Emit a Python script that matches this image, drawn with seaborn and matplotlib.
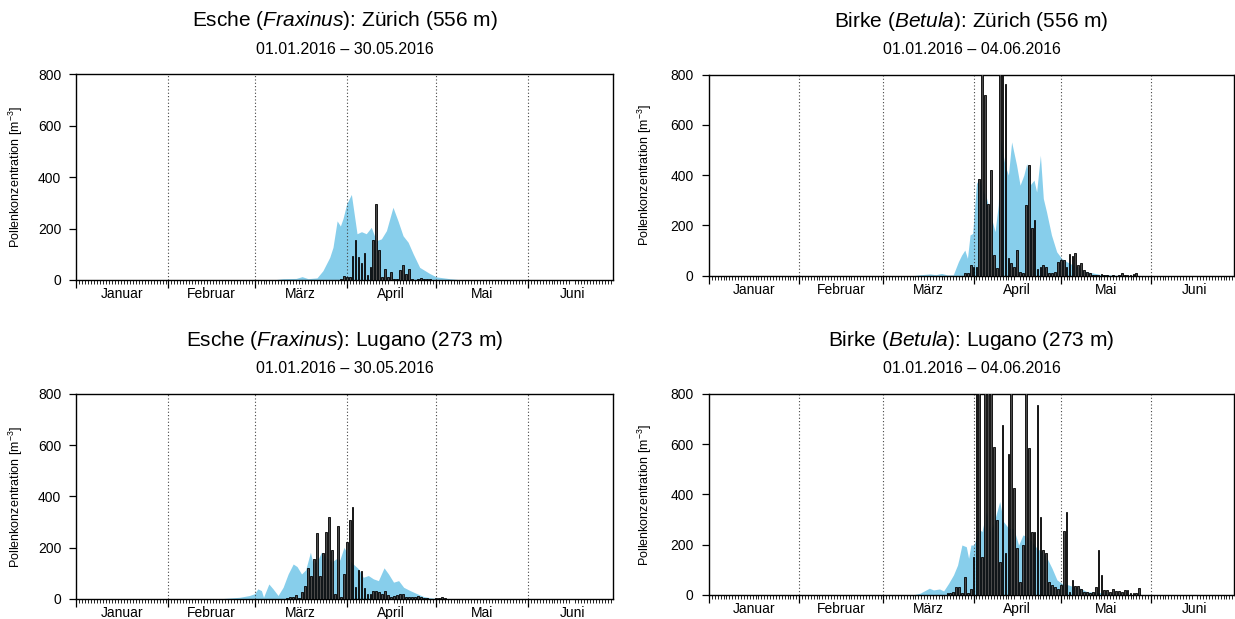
import numpy as np
import pandas as pd
import matplotlib
matplotlib.use("Agg")
import matplotlib.pyplot as plt
import seaborn as sns

# ---------------- data ----------------
months = ["Januar", "Februar", "März", "April", "Mai", "Juni"]
month_lengths = [31, 29, 31, 30, 31, 30]
y_ticks = [0, 200, 400, 600, 800]

titles = [r"Esche ($\it{Fraxinus}$): Zürich (556 m)",
          r"Birke ($\it{Betula}$): Zürich (556 m)",
          r"Esche ($\it{Fraxinus}$): Lugano (273 m)",
          r"Birke ($\it{Betula}$): Lugano (273 m)"]
subtitles = ["01.01.2016 – 30.05.2016",
             "01.01.2016 – 04.06.2016",
             "01.01.2016 – 30.05.2016",
             "01.01.2016 – 04.06.2016"]

# measured daily values (bars): first day index (0 = 1 Jan) and values
esche_zh_start = 89
esche_zh_bars = [5, 17, 12, 12, 95, 156, 88, 65, 104, 20, 49, 156, 296, 117, 10,
                 41, 13, 31, 5, 3, 37, 60, 23, 43, 2, 1, 3, 6, 4, 2, 2]

birke_zh_start = 88
birke_zh_bars = [9, 9, 42, 36, 36, 386, 1000, 717, 287, 420, 82, 29, 950, 1050, 764,
                 72, 49, 36, 102, 16, 9, 280, 439, 188, 221, 25, 33, 42, 36, 12,
                 12, 13, 56, 62, 62, 36, 86, 79, 89, 42, 49, 22, 16, 9, 3,
                 2, 2, 5, 3, 2, 0, 2, 0, 3, 10, 2, 3, 1, 5, 9]

esche_lu_start = 71
esche_lu_bars = [4, 6, 9, 15, 4, 26, 52, 121, 91, 156, 256, 91, 178, 260, 318,
                 191, 20, 286, 6, 95, 221, 308, 360, 48, 113, 108, 43, 20, 17, 32,
                 30, 26, 20, 32, 13, 6, 12, 13, 20, 20, 6, 6, 6, 9, 10,
                 6, 4, 2, 1, 1, 2, 3, 6, 4]

birke_lu_start = 82
birke_lu_bars = [7, 7, 11, 33, 33, 7, 73, 7, 24, 153, 1100, 950, 153, 1300, 1000,
                 900, 590, 299, 133, 676, 166, 561, 850, 424, 186, 53, 199, 900, 584, 252,
                 252, 756, 309, 179, 166, 53, 40, 33, 24, 40, 255, 332, 13, 60, 37,
                 36, 24, 13, 11, 8, 11, 33, 179, 80, 20, 20, 13, 24, 16, 16,
                 13, 20, 20, 7, 7, 7, 27]

# model forecast (blue area): day positions and values
esche_zh_model_day = [0, 66, 69.6, 74, 76, 78, 81, 83, 85.3, 86.4, 87.8, 88.9, 89.8, 91,
                      92.6, 94.5, 96, 97.6, 99.3, 101, 102.7, 104.4, 106.6, 108.3, 110,
                      111.7, 113.4, 115.6, 119, 121.2, 125.7, 130, 181]
esche_zh_model_val = [0, 0, 5, 6, 13, 5, 8, 36, 88, 127, 230, 210, 240, 296,
                      333, 180, 188, 180, 205, 153, 160, 192, 283, 230, 172,
                      147, 102, 49, 25, 12, 5, 0, 0]

birke_zh_model_day = [0, 70, 72, 76, 78, 80, 82, 84, 85.8, 86.9, 88, 88.9, 89.8, 90.7,
                      92, 93, 94.4, 95.5, 97.2, 98.4, 99.5, 100.3, 101.8, 103, 104.1,
                      105.8, 107, 108.3, 109.3, 110.4, 111.8, 112.7, 114, 115, 116.1,
                      117.8, 119.6, 121.3, 123, 125.3, 127.6, 129.9, 134.5, 140, 145, 181]
birke_zh_model_val = [0, 0, 3, 7, 4, 9, 3, 3, 56, 82, 102, 69, 162, 168,
                      367, 386, 333, 307, 228, 175, 281, 540, 440, 400, 532,
                      440, 360, 400, 446, 360, 380, 333, 479, 307, 254,
                      162, 95, 69, 56, 42, 29, 16, 5, 2, 0, 0]

esche_lu_model_day = [0, 48, 55, 58.3, 60, 61.1, 62.3, 63, 64.8, 66.2, 67.9, 69.6, 71.3,
                      73, 74.3, 75.8, 77.2, 78.8, 79.7, 81.2, 82.5, 84.2, 85.9, 87.4,
                      88.7, 90.1, 91, 92.1, 93.2, 95, 96.6, 98.3, 100, 101.7, 103.6,
                      105.1, 106.8, 108.5, 110.2, 112.4, 114.7, 116.9, 119.2, 122, 181]
esche_lu_model_val = [0, 0, 6, 13, 20, 39, 32, 6, 58, 39, 13, 45, 97,
                      136, 126, 97, 113, 182, 136, 149, 182, 162, 143, 156,
                      152, 201, 182, 149, 136, 117, 84, 91, 78, 71, 121,
                      97, 65, 71, 45, 32, 20, 9, 4, 0, 0]

birke_lu_model_day = [0, 70, 72.6, 75.8, 77.2, 79.3, 80.7, 82.4, 84.1, 85.5, 87, 88.5,
                      89.3, 90.1, 91.2, 92.7, 93.9, 95.4, 96.7, 98.1, 100, 101.3, 103.1,
                      104.8, 106.5, 108, 109.4, 111.1, 112.8, 114.5, 116.3, 118, 119.7,
                      121.4, 123.1, 125.4, 127.7, 130, 133.5, 136.9, 141, 145, 181]
birke_lu_model_val = [0, 0, 7, 27, 20, 24, 16, 46, 80, 119, 199, 192,
                      146, 199, 199, 265, 252, 332, 252, 292, 372, 292, 265,
                      265, 199, 239, 232, 212, 186, 172, 146, 106, 60,
                      46, 42, 33, 27, 13, 11, 7, 3, 0, 0]

panels = [
    (esche_zh_start, esche_zh_bars, esche_zh_model_day, esche_zh_model_val),
    (birke_zh_start, birke_zh_bars, birke_zh_model_day, birke_zh_model_val),
    (esche_lu_start, esche_lu_bars, esche_lu_model_day, esche_lu_model_val),
    (birke_lu_start, birke_lu_bars, birke_lu_model_day, birke_lu_model_val),
]

# ---------------- style ----------------
sns.set_theme(style="ticks")
plt.rcParams['font.family'] = ['Liberation Sans', 'DejaVu Sans']
plt.rcParams['mathtext.fontset'] = 'custom'
plt.rcParams['mathtext.rm'] = 'Liberation Sans'
plt.rcParams['mathtext.it'] = 'Liberation Sans:italic'
plt.rcParams['mathtext.bf'] = 'Liberation Sans:bold'
plt.rcParams['axes.edgecolor'] = 'black'
plt.rcParams['axes.linewidth'] = 1.0
plt.rcParams['text.color'] = 'black'
plt.rcParams['axes.labelcolor'] = 'black'
plt.rcParams['xtick.color'] = 'black'
plt.rcParams['ytick.color'] = 'black'

month_starts = np.concatenate([[0], np.cumsum(month_lengths)])
month_mid = month_starts[:-1] + np.array(month_lengths) / 2.0
x_end = 180.6

fig = plt.figure(figsize=(12.35, 6.19), dpi=100)
positions = [
    [0.0619, 0.5477, 0.4342, 0.3320],
    [0.5741, 0.5546, 0.4251, 0.3250],
    [0.0619, 0.0326, 0.4342, 0.3309],
    [0.5741, 0.0388, 0.4251, 0.3247],
]
ylabel_x = [-0.096, -0.105, -0.096, -0.105]

for i, (start, bars, mday, mval) in enumerate(panels):
    ax = fig.add_axes(positions[i])
    ax.fill_between(mday, 0, mval, color='#87CEEB', lw=0, zorder=1)
    for ms in month_starts[1:-1]:
        ax.axvline(ms, color='#444444', ls=(0, (1, 2)), lw=0.8, zorder=2)
    df = pd.DataFrame({'day': np.arange(start, start + len(bars)), 'val': bars})
    sns.barplot(data=df, x='day', y='val', native_scale=True, width=0.6,
                color='#4a4a4a', edgecolor='black', linewidth=0.6, saturation=1,
                errorbar=None, ax=ax, zorder=3)
    ax.set_xlim(0, x_end)
    ax.set_ylim(0, 800)
    ax.set_xlabel('')
    ax.set_ylabel(r'Pollenkonzentration [m$^{-3}$]', fontsize=9, color='black')
    ax.yaxis.set_label_coords(ylabel_x[i], 0.5)

    ax.set_xticks(month_mid)
    ax.set_xticklabels(months)
    ax.tick_params(axis='x', which='major', length=0, pad=5, labelsize=10,
                   labelcolor='black')
    ax.set_xticks(np.arange(0, 181), minor=True)
    ax.tick_params(axis='x', which='minor', length=2.8, width=0.6,
                   direction='out', color='black')
    ax.set_yticks(y_ticks)
    ax.tick_params(axis='y', length=5, width=0.9, pad=6, labelsize=10,
                   color='black', labelcolor='black')

    sec = ax.secondary_xaxis('bottom')
    sec.set_xticks(month_starts[:-1])
    sec.set_xticklabels([])
    sec.tick_params(length=6, width=0.9, color='black')
    sec.spines['bottom'].set_visible(False)

    for sp in ax.spines.values():
        sp.set_visible(True)
        sp.set_color('black')
        sp.set_linewidth(1.0)

    ax.annotate(titles[i], xy=(0.5, 1), xycoords='axes fraction',
                xytext=(0, 38.5), textcoords='offset points',
                ha='center', va='center', fontsize=15, color='black')
    ax.annotate(subtitles[i], xy=(0.5, 1), xycoords='axes fraction',
                xytext=(0, 18), textcoords='offset points',
                ha='center', va='center', fontsize=11.5, color='black')

fig.savefig('out.png', dpi=100)
